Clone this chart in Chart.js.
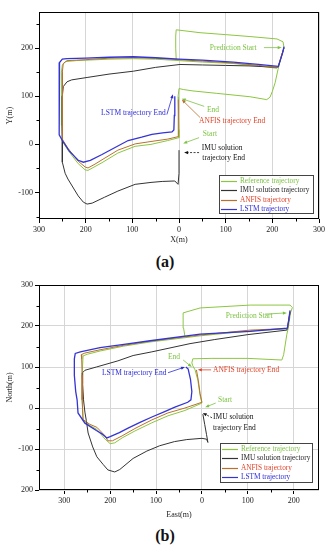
<!DOCTYPE html>
<html>
<head>
<meta charset="utf-8">
<script src="https://cdn.jsdelivr.net/npm/chart.js@4.4.0/dist/chart.umd.min.js"></script>
<style>
  body { margin: 0; background: #fff; width: 330px; height: 550px; position: relative; overflow: hidden; }
  .wrap { position: absolute; left: 0; width: 330px; height: 250px; }
  .cap { position: absolute; left: 0; width: 330px; text-align: center; font: bold 16px 'Liberation Serif', serif; color: #111; }
</style>
</head>
<body>
<div class="wrap" style="top:0"><canvas id="chartA"></canvas></div>
<div class="cap" style="top:253px">(a)</div>
<div class="wrap" style="top:270px"><canvas id="chartB"></canvas></div>
<div class="cap" style="top:527px">(b)</div>
<script>
// ---- (a) trajectories, X(m) / Y(m)
const refA = [[-6,176],[-7,200],[-7,225],[-6,238],[45,232],[100,228],[152,224],[210,219],[223,213],[225,201],[220,185],[216,170],[212,155],[206,128],[200,110],[195,98],[188,93],[152,99],[81,106],[30,111],[9,114],[0,116],[-2,99],[-1,60],[0,30],[0,14],[-24,8],[-60,0],[-94,-4],[-131,-18],[-165,-38],[-180,-46],[-195,-54],[-201,-53],[-216,-40],[-238,-12],[-249,5],[-251,40],[-252,100],[-252,150],[-250,165],[-243,172],[-220,174],[-150,177],[-98,178],[-50,177],[0,174],[50,171],[116,168],[170,163],[210,158]];
const imuA = [[225,200],[218,178],[212,160],[150,163],[100,164],[50,165],[2,166],[-50,160],[-98,152],[-150,146],[-197,139],[-230,134],[-240,130],[-248,120],[-250,100],[-250,50],[-250,0],[-250,-37],[-244,-60],[-238,-72],[-216,-107],[-205,-120],[-197,-124],[-186,-122],[-160,-110],[-131,-97],[-94,-83],[-60,-79],[-36,-77],[-9,-76],[-2,-83],[0,-60],[0,-30],[0,-12]];
const anfisA = [[225,201],[218,180],[212,160],[170,164],[116,169],[50,173],[0,176],[-50,179],[-98,180],[-150,179],[-200,176],[-240,174],[-248,168],[-250,150],[-250,100],[-250,40],[-249,10],[-238,-8],[-216,-35],[-201,-47],[-195,-49],[-180,-41],[-165,-32],[-131,-12],[-94,1],[-60,6],[-24,11],[-2,16],[-1,50],[-2,93]];
const lstmA = [[225,203],[222,190],[213,162],[170,166],[116,171],[50,175],[0,177],[-50,180],[-98,182],[-150,181],[-200,179],[-240,178],[-250,177],[-256,170],[-257,150],[-257,100],[-257,50],[-256,20],[-250,8],[-235,-14],[-216,-33],[-205,-37],[-190,-33],[-165,-21],[-140,-8],[-109,8],[-80,15],[-58,21],[-35,24],[-15,26],[-11,30],[-10,60],[-9,100]];

// ---- (b) trajectories, East(m) / North(m)
const refB = [[-37,174],[-40,195],[-41,232],[-4,244],[105,251],[192,251],[197,245],[193,232],[188,195],[185,180],[178,130],[174,117],[100,121],[20,121],[-20,120],[-22,110],[-20,103],[-15,93],[-9,68],[-4,30],[0,12],[-37,-6],[-74,-19],[-109,-36],[-146,-56],[-174,-73],[-190,-85],[-200,-87],[-211,-76],[-229,-52],[-244,-43],[-259,-30],[-261,20],[-261,80],[-259,127],[-250,131],[-222,139],[-170,151],[-113,161],[-4,176],[105,188],[187,193]];
const imuB = [[192,234],[189,212],[185,190],[100,179],[28,167],[-26,157],[-109,137],[-150,128],[-183,115],[-230,100],[-255,92],[-261,85],[-260,60],[-258,20],[-255,-10],[-252,-30],[-248,-61],[-238,-95],[-229,-119],[-215,-138],[-205,-151],[-190,-156],[-179,-150],[-150,-123],[-120,-105],[-92,-92],[-60,-82],[-33,-77],[0,-74],[10,-76],[13,-84],[10,-65],[6,-40],[2,-15]];
const anfisB = [[192,236],[189,215],[187,194],[105,190],[-4,178],[-113,163],[-170,153],[-222,142],[-255,134],[-263,130],[-262,120],[-261,80],[-261,20],[-259,-28],[-244,-40],[-229,-47],[-211,-68],[-205,-80],[-195,-80],[-174,-68],[-146,-50],[-109,-29],[-74,-12],[-37,0],[0,14],[-4,35],[-8,68],[-12,93]];
const lstmB = [[192,238],[189,215],[186,195],[105,187],[-4,180],[-113,164],[-170,155],[-222,147],[-265,137],[-276,133],[-278,120],[-278,80],[-275,40],[-272,20],[-270,-12],[-255,-37],[-230,-55],[-218,-63],[-207,-73],[-200,-70],[-180,-60],[-161,-49],[-135,-35],[-109,-22],[-80,-8],[-59,2],[-31,14],[-24,20],[-22,40],[-25,70],[-30,95],[-35,100]];

const seriesNames = ['Reference trajectory', 'IMU solution trajectory', 'ANFIS trajectory', 'LSTM trajectory'];

// ticks
const xTicksA = [-300, -200, -100, 0, 100, 200, 300];
const xLabelsA = ['300', '200', '100', '0', '100', '200', '300'];
const yTicksA = [200, 100, 0, -100];
const yLabelsA = ['200', '100', '0', '-100'];
const xTicksB = [-300, -200, -100, 0, 100, 200];
const xLabelsB = ['300', '200', '100', '0', '100', '200'];
const yTicksB = [300, 200, 100, 0, -100, -200];
const yLabelsB = ['300', '200', '100', '0', '-100', '200'];

const SERIF = "'Liberation Serif', 'DejaVu Serif', serif";
const GREEN = '#8cc640', BLACK = '#333333', BROWN = '#b8702e', BLUE = '#3434d4';
const legendText = ['#7cc242', '#222222', '#e0442a', '#2b2bd8'];

const pts = arr => arr.map(p => ({x: p[0], y: p[1]}));

function makeSets(ref, imu, anfis, lstm) {
  const cols = [GREEN, BLACK, BROWN, BLUE];
  return [ref, imu, anfis, lstm].map((d, i) => ({
    label: seriesNames[i],
    data: pts(d),
    showLine: true,
    borderColor: cols[i],
    borderWidth: i === 3 ? 1.3 : 1,
    pointRadius: 0,
    tension: 0,
    order: 3 - i
  }));
}

function axis(ticksArr, labelsArr, min, max, title, size, grid, tpad) {
  return {
    type: 'linear', min, max,
    afterBuildTicks: s => { s.ticks = ticksArr.map(v => ({value: v})); },
    afterFit: s => { if (s.isHorizontal()) s.height = size; else s.width = size; },
    ticks: {
      callback: v => labelsArr[ticksArr.indexOf(v)],
      font: {family: SERIF, size: 8}, color: '#222', padding: 2,
      autoSkip: false, maxRotation: 0
    },
    grid: { drawOnChartArea: grid, color: '#d6d6d6', tickColor: '#000', tickLength: 4 },
    border: { display: false },
    title: { display: true, text: title, font: {family: SERIF, size: 8}, color: '#222', padding: tpad }
  };
}

// frame + minor ticks
const frame = {
  id: 'frame',
  afterDraw(chart, args, o) {
    const {ctx, chartArea: {left, right, top, bottom}, scales: {x, y}} = chart;
    ctx.save();
    ctx.strokeStyle = '#000';
    ctx.lineWidth = 1;
    ctx.beginPath();
    o.minorX.forEach(v => {
      const px = Math.round(x.getPixelForValue(v)) + 0.5;
      ctx.moveTo(px, bottom); ctx.lineTo(px, bottom + 2.5);
    });
    o.minorY.forEach(v => {
      const py = Math.round(y.getPixelForValue(v)) + 0.5;
      ctx.moveTo(left, py); ctx.lineTo(left - 2.5, py);
    });
    ctx.stroke();
    ctx.strokeRect(left + 0.5, top + 0.5, right - left - 1, bottom - top - 1);
    ctx.restore();
  }
};

// legend box inside plot, bottom right
const boxLegend = {
  id: 'boxLegend',
  afterDraw(chart, args, o) {
    const {ctx, chartArea: {right, bottom}} = chart;
    const x0 = right - o.dx - o.w, y0 = bottom - o.dy - o.h;
    ctx.save();
    ctx.fillStyle = '#fff';
    ctx.fillRect(x0, y0, o.w, o.h);
    ctx.strokeStyle = '#444';
    ctx.lineWidth = 1;
    ctx.strokeRect(x0 + 0.5, y0 + 0.5, o.w, o.h);
    ctx.font = '7.3px ' + SERIF;
    ctx.textBaseline = 'middle';
    ctx.textAlign = 'left';
    chart.data.datasets.forEach((ds, i) => {
      const yy = Math.round(y0 + 6 + i * 9.3) + 0.5;
      ctx.strokeStyle = ds.borderColor;
      ctx.lineWidth = 1.2;
      ctx.beginPath(); ctx.moveTo(x0 + 2, yy); ctx.lineTo(x0 + 18, yy); ctx.stroke();
      ctx.fillStyle = legendText[i];
      ctx.fillText(ds.label, x0 + 21, yy);
    });
    ctx.restore();
  }
};

// text notes and arrows, placed in data units
const notes = {
  id: 'notes',
  afterDatasetsDraw(chart, args, o) {
    const {ctx, scales: {x, y}} = chart;
    ctx.save();
    ctx.font = '7.5px ' + SERIF;
    ctx.textBaseline = 'middle';
    ctx.textAlign = 'left';
    o.labels.forEach(l => {
      ctx.fillStyle = l.c;
      ctx.fillText(l.t, x.getPixelForValue(l.x), y.getPixelForValue(l.y));
    });
    o.arrows.forEach(a => {
      const x1 = x.getPixelForValue(a.from[0]), y1 = y.getPixelForValue(a.from[1]);
      const x2 = x.getPixelForValue(a.to[0]), y2 = y.getPixelForValue(a.to[1]);
      const ang = Math.atan2(y2 - y1, x2 - x1);
      ctx.strokeStyle = a.c; ctx.fillStyle = a.c; ctx.lineWidth = 0.8;
      ctx.setLineDash(a.dash ? [2, 1.5] : []);
      ctx.beginPath();
      ctx.moveTo(x1, y1);
      ctx.lineTo(x2 - 3 * Math.cos(ang), y2 - 3 * Math.sin(ang));
      ctx.stroke();
      ctx.setLineDash([]);
      ctx.beginPath();
      ctx.moveTo(x2, y2);
      ctx.lineTo(x2 - 4 * Math.cos(ang) + 1.6 * Math.sin(ang), y2 - 4 * Math.sin(ang) - 1.6 * Math.cos(ang));
      ctx.lineTo(x2 - 4 * Math.cos(ang) - 1.6 * Math.sin(ang), y2 - 4 * Math.sin(ang) + 1.6 * Math.cos(ang));
      ctx.closePath();
      ctx.fill();
    });
    ctx.restore();
  }
};

const RED = '#e0442a', TBLUE = '#2b2bd8', TGREEN = '#7cc242';

const notesA = {
  labels: [
    {t: 'Prediction Start', x: 66, y: 201, c: TGREEN},
    {t: 'LSTM trajectory End', x: -167, y: 66, c: TBLUE},
    {t: 'End', x: 60, y: 72, c: TGREEN},
    {t: 'ANFIS trajectory End', x: 43, y: 48, c: RED},
    {t: 'Start', x: 51, y: 21, c: TGREEN},
    {t: 'IMU solution', x: 49, y: -8, c: '#111'},
    {t: 'trajectory End', x: 50, y: -29, c: '#111'}
  ],
  arrows: [
    {from: [182, 201], to: [220, 201], c: TGREEN},
    {from: [-26, 62], to: [-13, 104], c: TBLUE},
    {from: [54, 79], to: [6, 95], c: TGREEN},
    {from: [45, 56], to: [6, 93], c: BROWN},
    {from: [43, 14], to: [9, 2], c: TGREEN},
    {from: [43, -17], to: [11, -17], c: '#111', dash: true}
  ]
};

const notesB = {
  labels: [
    {t: 'Prediction Start', x: 52, y: 224, c: TGREEN},
    {t: 'End', x: -74, y: 124, c: TGREEN},
    {t: 'ANFIS trajectory End', x: 24, y: 93, c: RED},
    {t: 'LSTM trajectory End', x: -218, y: 86, c: TBLUE},
    {t: 'Start', x: 35, y: 20, c: TGREEN},
    {t: 'IMU solution', x: 24, y: -22, c: '#111'},
    {t: 'trajectory End', x: 24, y: -49, c: '#111'}
  ],
  arrows: [
    {from: [137, 229], to: [185, 232], c: TGREEN},
    {from: [-41, 117], to: [-22, 100], c: TGREEN},
    {from: [20, 93], to: [-9, 93], c: RED},
    {from: [-74, 86], to: [-37, 100], c: TBLUE},
    {from: [30, 12], to: [7, 2], c: TGREEN},
    {from: [22, -24], to: [2, -12], c: '#111', dash: true}
  ]
};

Chart.defaults.animation = false;

new Chart(document.getElementById('chartA'), {
  type: 'scatter',
  data: { datasets: makeSets(refA, imuA, anfisA, lstmA) },
  options: {
    responsive: true, maintainAspectRatio: false, devicePixelRatio: 1,
    layout: { padding: {top: 12, right: 11, left: 0, bottom: 0} },
    scales: {
      x: axis(xTicksA, xLabelsA, -300, 300, 'X(m)', 31, true, {top: 0, bottom: 5}),
      y: axis(yTicksA, yLabelsA, -155, 275, 'Y(m)', 39, false, {top: 5, bottom: 0})
    },
    plugins: {
      legend: {display: false}, tooltip: {enabled: false},
      frame: {minorX: [-250, -150, -50, 50, 150, 250], minorY: [250, 150, 50, -50, -150]},
      boxLegend: {dx: 6, dy: 6, w: 94, h: 38},
      notes: notesA
    }
  },
  plugins: [frame, boxLegend, notes]
});

new Chart(document.getElementById('chartB'), {
  type: 'scatter',
  data: { datasets: makeSets(refB, imuB, anfisB, lstmB) },
  options: {
    responsive: true, maintainAspectRatio: false, devicePixelRatio: 1,
    layout: { padding: {top: 15, right: 11, left: 0, bottom: 0} },
    scales: {
      x: axis(xTicksB, xLabelsB, -355, 255, 'East(m)', 30, true, {top: 0, bottom: 0}),
      y: axis(yTicksB, yLabelsB, -200, 300, 'North(m)', 39, true, {top: 5, bottom: 0})
    },
    plugins: {
      legend: {display: false}, tooltip: {enabled: false},
      frame: {minorX: [-250, -150, -50, 50, 150], minorY: [250, 150, 50, -50, -150]},
      boxLegend: {dx: 7, dy: 8, w: 92, h: 39},
      notes: notesB
    }
  },
  plugins: [frame, boxLegend, notes]
});
</script>
</body>
</html>
